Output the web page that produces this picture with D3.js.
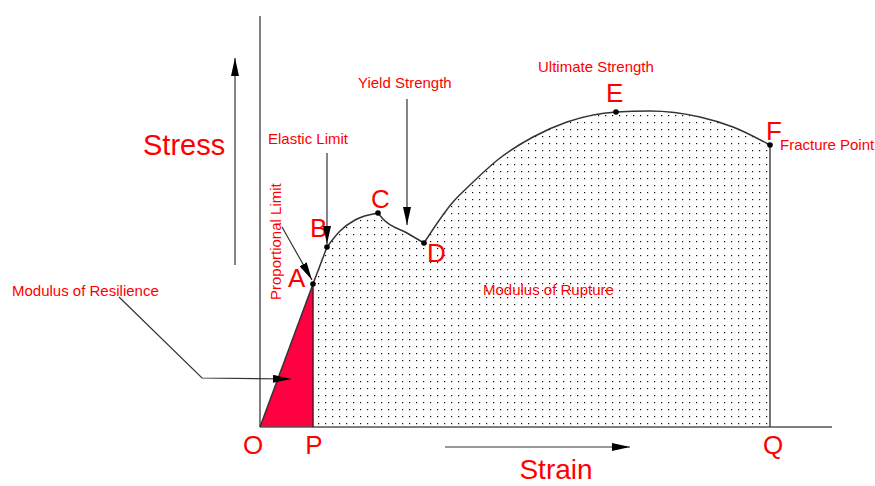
<!DOCTYPE html>
<html>
<head>
<meta charset="utf-8">
<script src="https://cdn.jsdelivr.net/npm/d3@7"></script>
<style>
  body { margin: 0; background: #fff; }
  text { font-family: 'Liberation Sans', Arial, sans-serif; fill: #ff0000; }
</style>
</head>
<body>
<div id="chart"></div>
<script>
// Key points on the stress-strain curve
const pointLabels = ['A', 'B', 'C', 'D', 'E', 'F'];
const pointStrain = [53, 67, 118, 164, 356, 510];
const pointStress = [143, 180, 214, 184, 315, 282];

// Curve segments as [strain, stress]
const segOA = [[0, 0], [53, 143]];
const segAB = [[53, 143], [67, 180]];
const segBC = [[67, 180], [80, 196], [95, 207], [118, 214]];
const segCD = [[118, 214], [123, 208], [147, 194], [164, 184]];
const segDF = [[164, 184], [193, 225], [210, 242], [240, 269], [273, 290],
               [307, 305], [356, 315], [390, 316], [440, 310], [473, 300], [510, 282]];

// Base letters on the strain axis
const baseLabels = ['O', 'P', 'Q'];
const baseStrain = [0, 53, 510];

const width = 875, height = 486;

const svg = d3.select('#chart').append('svg')
    .attr('width', width)
    .attr('height', height);

const x = d3.scaleLinear().domain([0, 510]).range([260, 770]);
const y = d3.scaleLinear().domain([0, 411]).range([427, 16]);

// Patterns and markers
const defs = svg.append('defs');
const pat = defs.append('pattern')
    .attr('id', 'dots')
    .attr('patternUnits', 'userSpaceOnUse')
    .attr('width', 7)
    .attr('height', 7);
pat.append('rect').attr('width', 7).attr('height', 7).attr('fill', '#fff');
pat.append('rect').attr('x', 3).attr('y', 3).attr('width', 1.2).attr('height', 1.2).attr('fill', '#111');

defs.append('marker')
    .attr('id', 'head')
    .attr('viewBox', '0 0 18 8')
    .attr('refX', 18).attr('refY', 4)
    .attr('markerWidth', 18).attr('markerHeight', 8)
    .attr('markerUnits', 'userSpaceOnUse')
    .attr('orient', 'auto')
    .append('path')
    .attr('d', 'M0,0 L18,4 L0,8 Z')
    .attr('fill', '#000');

const line = d3.line()
    .x(d => x(d[0]))
    .y(d => y(d[1]))
    .curve(d3.curveMonotoneX);

// Modulus of rupture area (P -> A -> curve -> F -> Q)
const rupturePath = 'M' + x(53) + ',' + y(0) + 'L' + x(53) + ',' + y(143)
    + [segAB, segBC, segCD, segDF].map(s => line(s).replace(/^M/, 'L')).join('')
    + 'L' + x(510) + ',' + y(0) + 'Z';
svg.append('path')
    .attr('d', rupturePath)
    .attr('fill', 'url(#dots)');

// Modulus of resilience triangle
svg.append('path')
    .attr('d', d3.line().x(d => x(d[0])).y(d => y(d[1]))([[0, 0], [53, 143], [53, 0]]) + 'Z')
    .attr('fill', '#ff0040');

// Axes
svg.append('line')
    .attr('x1', x(0)).attr('x2', x(0))
    .attr('y1', y(0)).attr('y2', y(411))
    .attr('stroke', '#808080').attr('stroke-width', 2);
svg.append('line')
    .attr('x1', x(0)).attr('x2', x(572))
    .attr('y1', y(0)).attr('y2', y(0))
    .attr('stroke', '#555').attr('stroke-width', 1.5);

// Verticals at P and Q
svg.append('line')
    .attr('x1', x(53)).attr('x2', x(53))
    .attr('y1', y(0)).attr('y2', y(143))
    .attr('stroke', '#5a1020').attr('stroke-width', 1.5);
svg.append('line')
    .attr('x1', x(510)).attr('x2', x(510))
    .attr('y1', y(0)).attr('y2', y(282))
    .attr('stroke', '#444').attr('stroke-width', 1.5);

// Curve
[segOA, segAB, segBC, segCD, segDF].forEach(s => {
    svg.append('path')
        .attr('d', line(s))
        .attr('fill', 'none')
        .attr('stroke', '#333')
        .attr('stroke-width', 1.5);
});

// Key points
svg.selectAll('.pt')
    .data(pointLabels)
    .enter().append('circle')
    .attr('class', 'pt')
    .attr('cx', (d, i) => x(pointStrain[i]))
    .attr('cy', (d, i) => y(pointStress[i]))
    .attr('r', 2.8)
    .attr('fill', '#000');

// Point letters
const letterOffsets = [[-25, 3], [-17, -10], [-7, -5], [3, 19], [-10, -10], [-4, -5]];
svg.selectAll('.plabel')
    .data(pointLabels)
    .enter().append('text')
    .attr('class', 'plabel')
    .attr('x', (d, i) => x(pointStrain[i]) + letterOffsets[i][0])
    .attr('y', (d, i) => y(pointStress[i]) + letterOffsets[i][1])
    .style('font-size', '26px')
    .text(d => d);

const baseOffsets = [-7, 1, 3];
svg.selectAll('.blabel')
    .data(baseLabels)
    .enter().append('text')
    .attr('class', 'blabel')
    .attr('x', (d, i) => x(baseStrain[i]) + baseOffsets[i])
    .attr('y', y(0) + 27)
    .attr('text-anchor', 'middle')
    .style('font-size', '26px')
    .text(d => d);

// Annotation arrows (data coords)
const arrows = [
    [[-25, 162], [-25, 369]],            // stress
    [[185, -20], [370, -20]],            // strain
    [[67, 274], [67, 183]],              // elastic limit
    [[147, 328], [147, 202]],            // yield strength
    [[22, 200], [52, 147]],              // proportional limit
    [[-141, 130], [-58, 49], [31, 48]]   // modulus of resilience
];
arrows.forEach(a => {
    svg.append('path')
        .attr('d', d3.line().x(d => x(d[0])).y(d => y(d[1]))(a))
        .attr('fill', 'none')
        .attr('stroke', '#333')
        .attr('stroke-width', 1.2)
        .attr('marker-end', 'url(#head)');
});

// Text annotations
const notes = [
    { t: 'Stress', x: -117, y: 272, s: 29 },
    { t: 'Strain', x: 296, y: -52, s: 28, anchor: 'middle' },
    { t: 'Elastic Limit', x: 8, y: 283, s: 15 },
    { t: 'Yield Strength', x: 98, y: 339, s: 15 },
    { t: 'Ultimate Strength', x: 278, y: 355, s: 15 },
    { t: 'Fracture Point', x: 520, y: 277, s: 15 },
    { t: 'Modulus of Resilience', x: -248, y: 131, s: 15 },
    { t: 'Modulus of Rupture', x: 223, y: 132, s: 15 }
];
notes.forEach(n => {
    svg.append('text')
        .attr('x', x(n.x))
        .attr('y', y(n.y))
        .attr('text-anchor', n.anchor || 'start')
        .style('font-size', n.s + 'px')
        .text(n.t);
});

svg.append('text')
    .attr('transform', 'translate(' + x(21) + ',' + y(127) + ') rotate(-90)')
    .style('font-size', '15px')
    .text('Proportional Limit');
</script>
</body>
</html>
